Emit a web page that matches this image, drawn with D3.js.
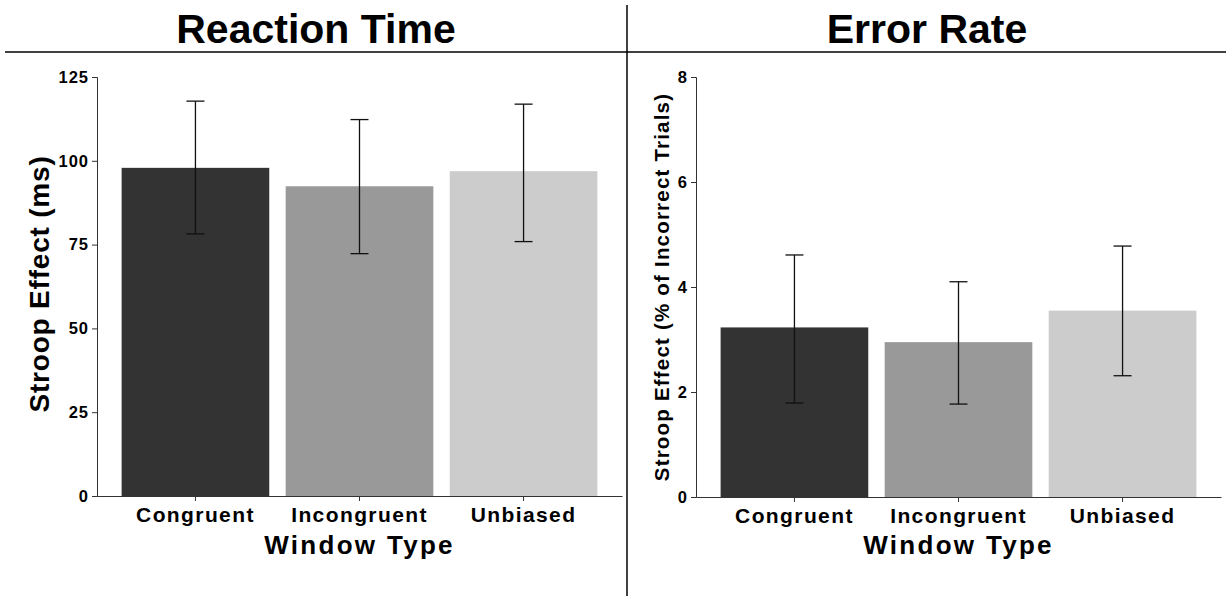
<!DOCTYPE html>
<html>
<head>
<meta charset="utf-8">
<script src="https://cdn.jsdelivr.net/npm/d3@7"></script>
<style>
  body { margin: 0; background: #fff; }
  svg text { font-family: "Liberation Sans", Arial, sans-serif; font-weight: bold; fill: #000; }
</style>
</head>
<body>
<svg id="chart" width="1230" height="596"></svg>
<script>
// DATA
const windowTypes = ['Congruent', 'Incongruent', 'Unbiased'];
const barColors = ['#333333', '#999999', '#cccccc'];

const rtMeans = [97.9, 92.4, 96.9];
const rtLow = [78.2, 72.3, 75.9];
const rtHigh = [117.8, 112.3, 116.9];
const rtTicks = [0, 25, 50, 75, 100, 125];

const errMeans = [3.23, 2.95, 3.55];
const errLow = [1.79, 1.77, 2.31];
const errHigh = [4.61, 4.10, 4.78];
const errTicks = [0, 2, 4, 6, 8];

const svg = d3.select('#chart');

// frame lines: divider and title underline
svg.append('line').attr('x1', 627).attr('x2', 627).attr('y1', 5).attr('y2', 596)
  .attr('stroke', '#000').attr('stroke-width', 1.5);
svg.append('line').attr('x1', 5).attr('x2', 1226).attr('y1', 52).attr('y2', 52)
  .attr('stroke', '#000').attr('stroke-width', 1.5);

/**
 * Draws one bar panel with error bars
 */
function drawPanel(opts) {
  let g = svg.append('g');

  // ggplot-like layout: bar width 0.9, 0.6 unit expansion on each side
  let x = d3.scaleBand()
    .domain(windowTypes)
    .range([opts.left, opts.right])
    .paddingInner(0.1)
    .paddingOuter(0.15);

  let y = d3.scaleLinear()
    .domain([0, opts.max])
    .range([opts.bottom, opts.top]);

  // title
  g.append('text')
    .attr('x', opts.titleX).attr('y', 43)
    .attr('text-anchor', 'middle')
    .style('font-size', '41px')
    .text(opts.title);

  // bars
  g.selectAll('rect.bar').data(windowTypes).enter()
    .append('rect')
    .attr('x', d => x(d))
    .attr('width', x.bandwidth())
    .attr('y', (d, i) => y(opts.means[i]))
    .attr('height', (d, i) => y(0) - y(opts.means[i]))
    .attr('fill', (d, i) => barColors[i]);

  // error bars
  let capHalf = 9;
  windowTypes.forEach((d, i) => {
    let cx = x(d) + x.bandwidth() / 2;
    g.append('line')
      .attr('x1', cx).attr('x2', cx)
      .attr('y1', y(opts.low[i])).attr('y2', y(opts.high[i]))
      .attr('stroke', '#111').attr('stroke-width', 1.3);
    [opts.low[i], opts.high[i]].forEach(v => {
      g.append('line')
        .attr('x1', cx - capHalf).attr('x2', cx + capHalf)
        .attr('y1', y(v)).attr('y2', y(v))
        .attr('stroke', '#111').attr('stroke-width', 1.3);
    });
  });

  // y axis
  let yAxis = g.append('g')
    .attr('transform', 'translate(' + opts.left + ',0)')
    .call(d3.axisLeft(y).tickValues(opts.ticks).tickSize(5).tickPadding(3));
  yAxis.selectAll('text')
    .style('font-size', '16.5px')
    .style('letter-spacing', '1px')
    .style('font-family', '"Liberation Sans", Arial, sans-serif');
  yAxis.select('.domain').attr('stroke', '#333');
  yAxis.selectAll('line').attr('stroke', '#333');

  // x axis
  let xAxis = g.append('g')
    .attr('transform', 'translate(0,' + opts.bottom + ')')
    .call(d3.axisBottom(x).tickSize(5).tickPadding(6).tickSizeOuter(0));
  xAxis.selectAll('text')
    .style('font-size', '21px')
    .style('letter-spacing', '1.4px')
    .style('font-family', '"Liberation Sans", Arial, sans-serif');
  xAxis.select('.domain').attr('stroke', '#333');
  xAxis.selectAll('line').attr('stroke', '#333');

  // axis titles
  g.append('text')
    .attr('x', (opts.left + opts.right) / 2).attr('y', 554)
    .attr('text-anchor', 'middle')
    .style('font-size', '26px')
    .style('letter-spacing', '2.3px')
    .text('Window Type');

  g.append('text')
    .attr('transform', 'translate(' + opts.yLabelX + ',' + opts.yLabelY + ') rotate(-90)')
    .attr('text-anchor', 'middle')
    .style('font-size', opts.yLabelSize)
    .style('letter-spacing', opts.yLabelSpacing)
    .text(opts.yLabel);
}

drawPanel({
  title: 'Reaction Time', titleX: 316,
  left: 97, right: 622, top: 77, bottom: 496,
  max: 125, ticks: rtTicks,
  means: rtMeans, low: rtLow, high: rtHigh,
  yLabel: 'Stroop Effect (ms)', yLabelX: 49, yLabelY: 284,
  yLabelSize: '28px', yLabelSpacing: '0.8px'
});

drawPanel({
  title: 'Error Rate', titleX: 927,
  left: 696, right: 1221, top: 77, bottom: 497,
  max: 8, ticks: errTicks,
  means: errMeans, low: errLow, high: errHigh,
  yLabel: 'Stroop Effect (% of Incorrect Trials)', yLabelX: 669, yLabelY: 287,
  yLabelSize: '20.5px', yLabelSpacing: '1.2px'
});
</script>
</body>
</html>
